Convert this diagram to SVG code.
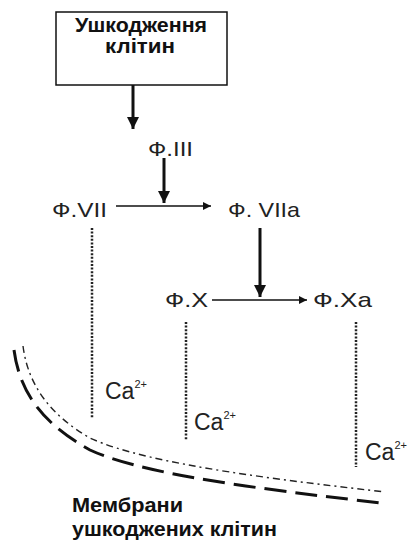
<svg xmlns="http://www.w3.org/2000/svg" width="415" height="541" viewBox="0 0 415 541">
<defs>
<style>
.lbl{font-family:"Liberation Sans",Arial,sans-serif;font-size:21px;fill:#222}
.b{font-family:"Liberation Sans",Arial,sans-serif;font-size:20px;font-weight:bold;fill:#111}
.ca{font-family:"Liberation Sans",Arial,sans-serif;font-size:23px;fill:#222}
.sup{font-size:11px}
.thick{stroke:#111;stroke-width:3;fill:none}
.thin{stroke:#111;stroke-width:1.6;fill:none}
.dot{stroke:#222;stroke-width:2.5;stroke-dasharray:2 1.6;fill:none}
</style>
<marker id="hb" viewBox="0 0 10 10" refX="10" refY="5" markerWidth="4" markerHeight="4.4" orient="auto" markerUnits="strokeWidth"><path d="M0,0 L10,5 L0,10 z" fill="#111"/></marker>
<marker id="hs" viewBox="0 0 10 10" refX="10" refY="5" markerWidth="6" markerHeight="5" orient="auto" markerUnits="strokeWidth"><path d="M0,0 L10,5 L0,10 z" fill="#111"/></marker>
</defs>
<rect width="415" height="541" fill="#fff"/>
<g id="node-damage">
<rect x="56" y="12" width="171" height="73" fill="#fff" stroke="#111" stroke-width="1.5"/>
<text class="b" x="75" y="32" textLength="132" lengthAdjust="spacingAndGlyphs">Ушкодження</text>
<text class="b" x="105" y="53" textLength="70" lengthAdjust="spacingAndGlyphs">клітин</text>
</g>
<g id="node-f3"><text class="lbl" x="148" y="156" textLength="45" lengthAdjust="spacingAndGlyphs">Ф.III</text></g>
<g id="node-f7"><text class="lbl" x="52" y="217" textLength="55" lengthAdjust="spacingAndGlyphs">Ф.VII</text></g>
<g id="node-f7a"><text class="lbl" x="228" y="217" textLength="72" lengthAdjust="spacingAndGlyphs">Ф. VIIa</text></g>
<g id="node-f10"><text class="lbl" x="165" y="307" textLength="43" lengthAdjust="spacingAndGlyphs">Ф.X</text></g>
<g id="node-f10a"><text class="lbl" x="313" y="307" textLength="59" lengthAdjust="spacingAndGlyphs">Ф.Xa</text></g>
<g id="node-ca1"><text class="ca" x="105" y="399">Ca<tspan class="sup" dy="-11">2+</tspan></text></g>
<g id="node-ca2"><text class="ca" x="194" y="430">Ca<tspan class="sup" dy="-11">2+</tspan></text></g>
<g id="node-ca3"><text class="ca" x="365" y="460">Ca<tspan class="sup" dy="-11">2+</tspan></text></g>
<g id="node-membrane">
<path d="M14,350 C20,395 45,425 90,450 C150,478 300,493 380,503" stroke="#111" stroke-width="3" fill="none" stroke-dasharray="22 9"/>
<path d="M23,346 C28,385 50,415 90,438 C150,466 300,482 385,492" stroke="#222" stroke-width="1.4" fill="none" stroke-dasharray="7 4 2 4"/>
<text class="b" x="72" y="512" textLength="111" lengthAdjust="spacingAndGlyphs">Мембрани</text>
<text class="b" x="72" y="536" textLength="205" lengthAdjust="spacingAndGlyphs">ушкоджених клітин</text>
</g>
<g id="connectors">
<line class="thick" x1="133" y1="85" x2="133" y2="129" marker-end="url(#hb)"/>
<line class="thick" x1="164" y1="158" x2="164" y2="203" marker-end="url(#hb)"/>
<line class="thin" x1="116" y1="206" x2="211" y2="206" marker-end="url(#hs)"/>
<line class="thick" x1="260" y1="228" x2="260" y2="297" marker-end="url(#hb)"/>
<line class="thin" x1="212" y1="300" x2="307" y2="300" marker-end="url(#hs)"/>
<line class="dot" x1="92" y1="228" x2="92" y2="418"/>
<line class="dot" x1="186" y1="322" x2="186" y2="440"/>
<line class="dot" x1="356" y1="322" x2="356" y2="467"/>
</g>
</svg>
